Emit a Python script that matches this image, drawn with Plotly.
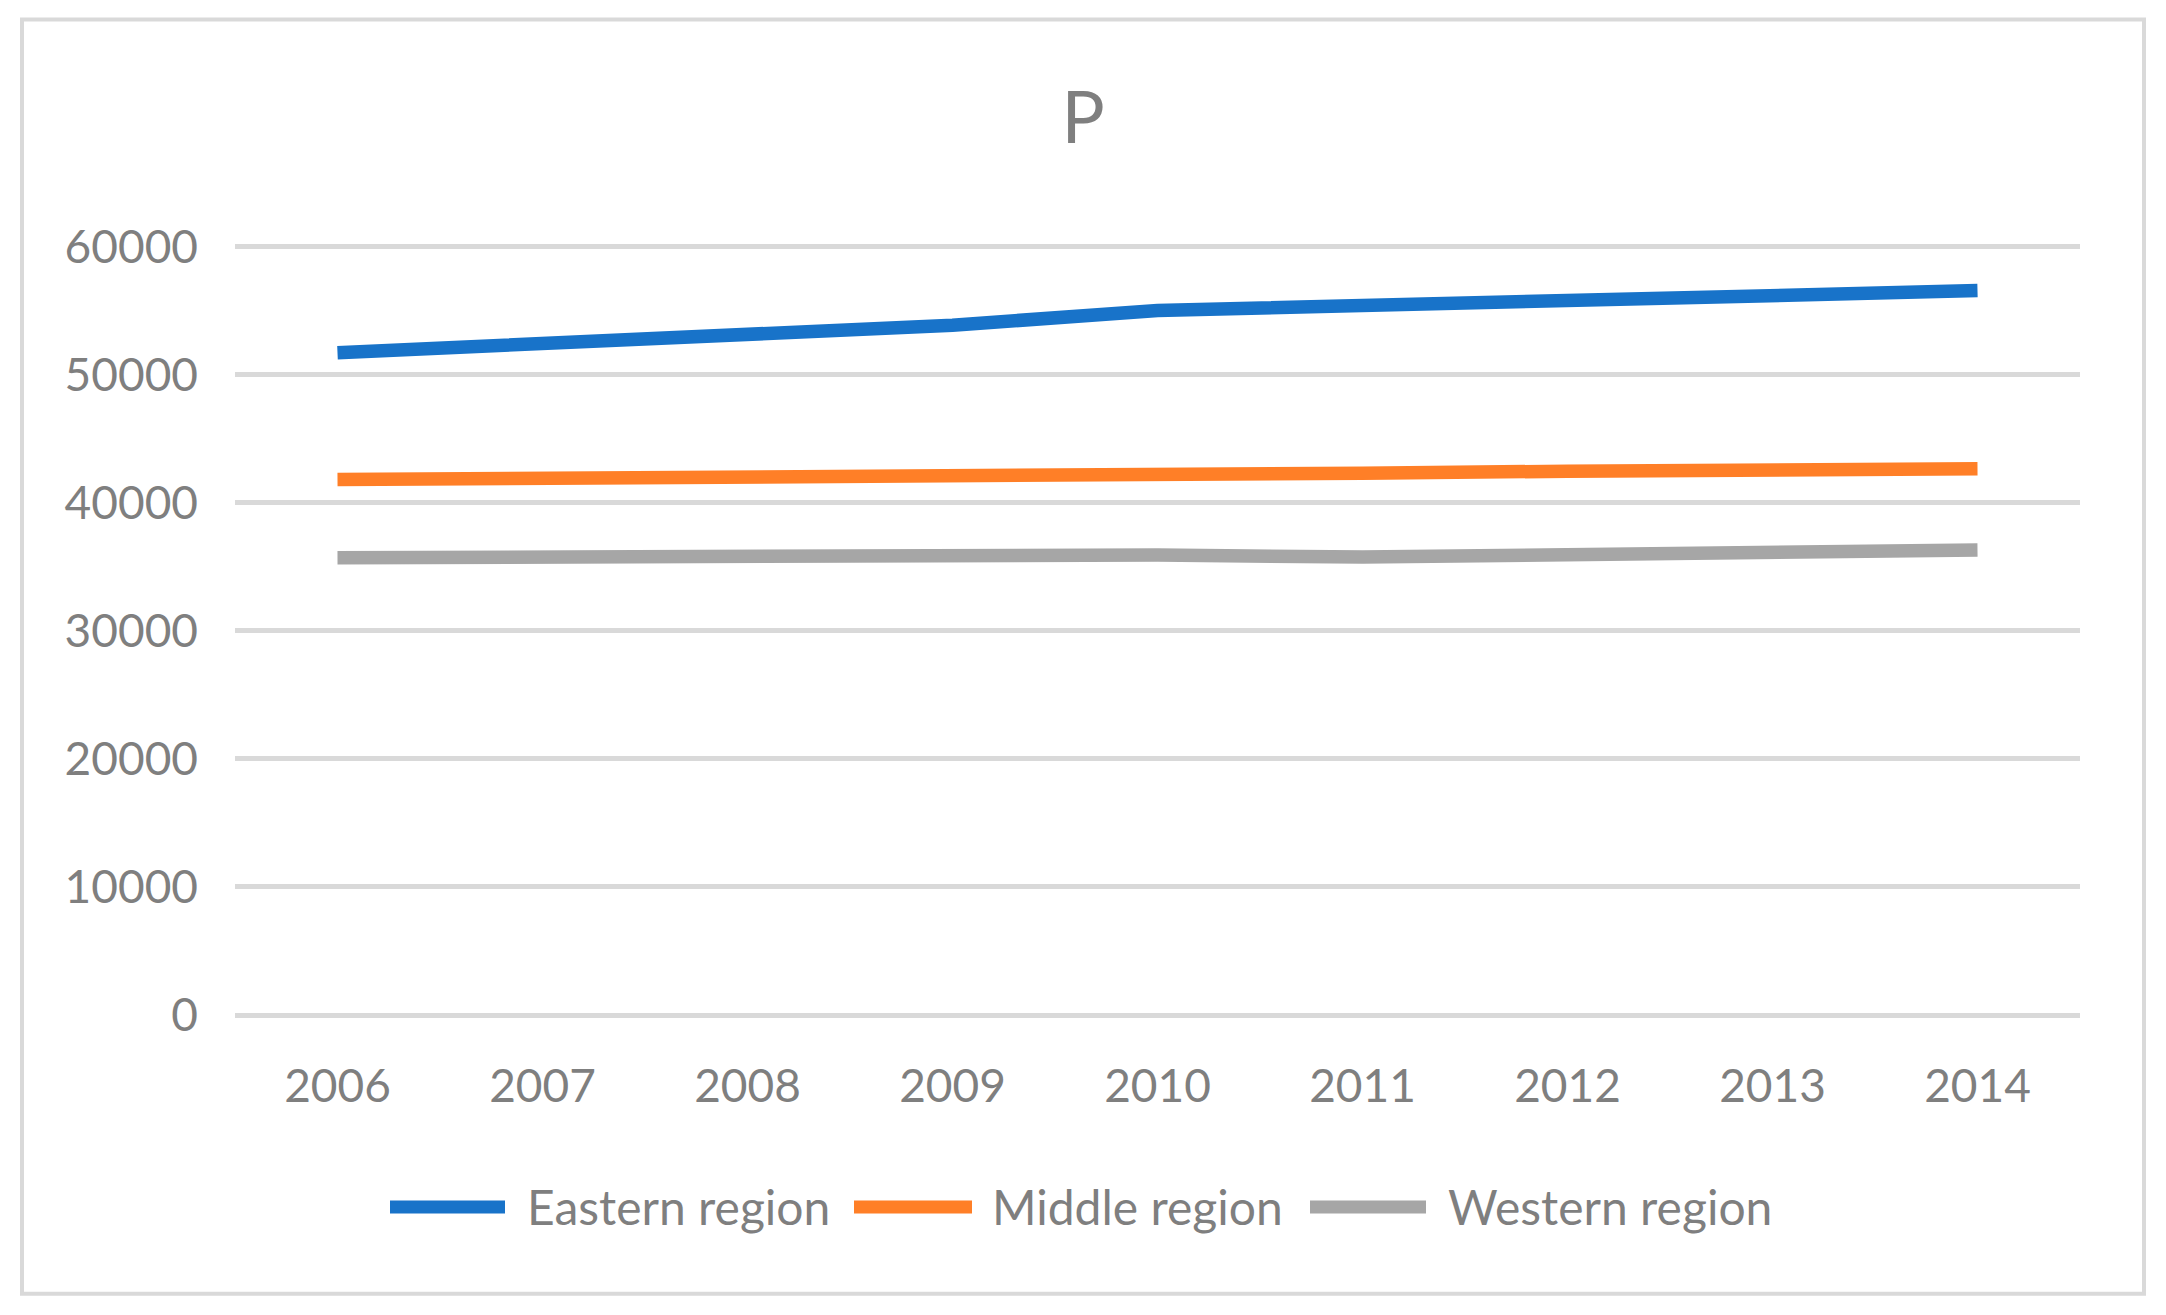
import plotly.graph_objects as go

years = ["2006", "2007", "2008", "2009", "2010", "2011", "2012", "2013", "2014"]
eastern = [51700, 52500, 53150, 53850, 55000, 55400, 55850, 56200, 56550]
middle = [41800, 41850, 42000, 42150, 42200, 42300, 42450, 42600, 42650]
western = [35700, 35750, 35850, 36050, 35900, 35750, 35900, 36050, 36300]
series_names = ["Eastern region", "Middle region", "Western region"]
colors = ["#1873C9", "#FF7F27", "#A6A6A6"]
y_ticks = [0, 10000, 20000, 30000, 40000, 50000, 60000]

OFF = 8  # page body margin
YMAX = 60500  # a bit above 60000 so the top gridline is drawn
W, H = 2166 - 2 * OFF, 1315 - 2 * OFF
y0_px, y60_px = 1015, 246
B = y0_px - OFF
PH = (y0_px - y60_px) * YMAX / 60000.0
T = B - PH
L, R = 235 - OFF, 2080 - OFF
PW = R - L

def px_x(px):
    return (px - OFF - L) / PW

def px_y(py):
    return (B - (py - OFF)) / PH

TXT = "#7F7F7F"
FONT = "Lato"

fig = go.Figure()
for name, vals, col in zip(series_names, [eastern, middle, western], colors):
    fig.add_trace(go.Scatter(x=years, y=vals, mode="lines", name=name,
                             line=dict(color=col, width=13.5), showlegend=False))

shapes = []
shapes.append(dict(type="rect", xref="paper", yref="paper",
                   x0=px_x(22), x1=px_x(2144), y0=px_y(1294), y1=px_y(19),
                   line=dict(color="#D9D9D9", width=4), layer="below"))

annotations = []
legend_items = [(384, 511, 525), (848, 978, 990), (1304, 1432, 1446)]
ly = px_y(1207)
for (s0, s1, tx), name, col in zip(legend_items, series_names, colors):
    shapes.append(dict(type="line", xref="paper", yref="paper",
                       x0=px_x(s0 + 6), x1=px_x(s1 - 6), y0=ly, y1=ly,
                       line=dict(color=col, width=13)))
    annotations.append(dict(text=name, xref="paper", yref="paper",
                            x=px_x(tx), y=ly, xanchor="left", yanchor="middle",
                            showarrow=False, font=dict(family=FONT, size=48, color=TXT)))

fig.update_layout(
    width=W, height=H,
    margin=dict(l=L, r=W - R, t=T, b=H - B, pad=0),
    paper_bgcolor="white", plot_bgcolor="white",
    title=dict(text="P", x=(1083 - OFF) / W, xref="container", xanchor="center",
               y=1 - (118 - OFF) / H, yref="container", yanchor="middle",
               font=dict(family=FONT, size=72, color=TXT)),
    font=dict(family=FONT, size=46, color=TXT),
    shapes=shapes, annotations=annotations,
    showlegend=False,
)
fig.update_xaxes(type="category", range=[-0.5, 8.5], showgrid=False,
                 showline=False, zeroline=False, ticks="",
                 tickfont=dict(family=FONT, size=46, color=TXT),
                 ticklabelstandoff=40)
fig.update_yaxes(range=[0, YMAX], tickvals=y_ticks,
                 ticktext=[str(v) for v in y_ticks],
                 showgrid=True, gridcolor="#D9D9D9", gridwidth=4.5,
                 zeroline=True, zerolinecolor="#D9D9D9", zerolinewidth=4.5,
                 showline=False, ticks="",
                 tickfont=dict(family=FONT, size=46, color=TXT),
                 ticklabelstandoff=36)

fig.write_html("out.html")
